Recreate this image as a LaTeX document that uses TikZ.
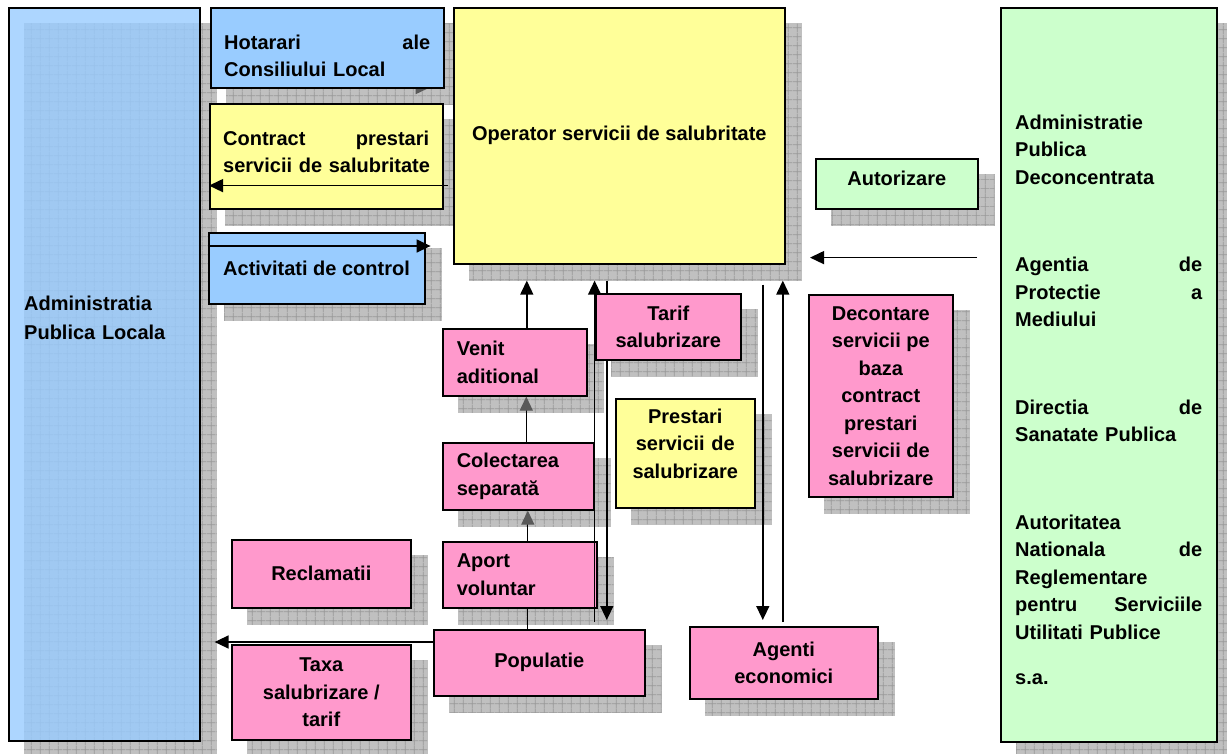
\documentclass[tikz,border=0pt]{standalone}
\usepackage{fontspec}
\setmainfont{Liberation Sans}
\usetikzlibrary{arrows.meta,patterns.meta}
\definecolor{boxblue}{HTML}{99CCFF}
\definecolor{boxyellow}{HTML}{FFFF99}
\definecolor{boxpink}{HTML}{FF99CC}
\definecolor{boxgreen}{HTML}{CCFFCC}
\definecolor{shadowgray}{HTML}{C0C0C0}
\definecolor{gridgray}{HTML}{999999}
\pgfdeclarelayer{shadow}
\pgfdeclarelayer{under}
\pgfsetlayers{shadow,under,main}
\tikzdeclarepattern{
  name=shadegrid,
  type=uncolored,
  bounding box={(0pt,0pt) and (9.2pt,9.2pt)},
  tile size={(9.2pt,9.2pt)},
  code={\draw[line width=0.6pt] (0pt,4.6pt) -- (9.2pt,4.6pt) (4.6pt,0pt) -- (4.6pt,9.2pt);}
}

\begin{document}
\begin{tikzpicture}[x=1pt,y=-1pt,
    box/.style={draw,line width=1.6pt,anchor=north west,inner sep=0pt,align=center,
      font=\bfseries\fontsize{20}{27.5}\selectfont},
    lbox/.style={box,align=left,inner xsep=14pt},
    txt/.style={inner sep=0pt,font=\bfseries\fontsize{20}{27.5}\selectfont},
    arr/.style={line width=1.4pt,-{Triangle[length=14pt,width=13pt]}},
    arrg/.style={line width=1.2pt,-{Triangle[length=14pt,width=13pt,color=black!65]}},
    link/.style={line width=1.2pt}]
  \useasboundingbox (0,0) rectangle (1227,753);

  % boxes
  \node[box,fill=boxblue,fill opacity=0.8,text opacity=1,minimum width=191pt,minimum height=733pt] (adm) at (8,7) {};
  \node[box,fill=boxblue,minimum width=233pt,minimum height=80pt] (hot) at (210,7) {};
  \node[box,fill=boxyellow,minimum width=233pt,minimum height=105pt] (con) at (209,103) {};
  \node[box,fill=boxblue,minimum width=216pt,minimum height=71pt] (act) at (208,232) {};
  \node[box,fill=boxyellow,minimum width=331pt,minimum height=256pt] (op) at (453,7) {Operator servicii de salubritate};
  \node[box,fill=boxgreen,minimum width=162pt,minimum height=50pt] (aut) at (815,158) {};
  \node[box,fill=boxgreen,minimum width=216pt,minimum height=734pt] (grn) at (1000,7) {};
  \node[lbox,fill=boxpink,text width=116pt,minimum width=144pt,minimum height=67pt] (ven) at (442,328) {Venit\\aditional};
  \node[box,fill=boxpink,minimum width=145pt,minimum height=66pt] (tar) at (595,293) {Tarif\\salubrizare};
  \node[lbox,fill=boxpink,text width=123pt,minimum width=151pt,minimum height=67pt] (col) at (442,442) {Colectarea\\separată};
  \node[box,fill=boxyellow,minimum width=139pt,minimum height=109pt] (pre) at (615,398) {};
  \node[box,fill=boxpink,minimum width=144pt,minimum height=202pt] (dec) at (808,294)
    {Decontare\\servicii pe\\baza\\contract\\prestari\\servicii de\\salubrizare};
  \node[box,fill=boxpink,minimum width=179pt,minimum height=68pt] (rec) at (231,539) {Reclamatii};
  \node[lbox,fill=boxpink,text width=126pt,minimum width=154pt,minimum height=66pt] (apo) at (442,541) {Aport\\voluntar};
  \node[box,fill=boxpink,minimum width=211pt,minimum height=66pt] (pop) at (433,629) {Populatie};
  \node[box,fill=boxpink,minimum width=179pt,minimum height=95pt] (tax) at (231,644) {Taxa\\salubrizare /\\tarif};
  \node[box,fill=boxpink,minimum width=188pt,minimum height=72pt] (age) at (689,626) {Agenti\\economici};

  % texts placed off centre
  \node[txt,text width=175pt,align=left,anchor=base west] (admtxt) at ([xshift=16pt,yshift=-303pt]adm.north west)
    {Administratia\\[1.5pt]Publica Locala};
  \node[txt,text width=206pt,align=left,anchor=base west] (hottxt) at ([xshift=14pt,yshift=-42pt]hot.north west)
    {Hotarari\hfill ale\\Consiliului Local};
  \node[txt,text width=206pt,align=left,anchor=base west] (contxt) at ([xshift=14pt,yshift=-42pt]con.north west)
    {Contract\hfill prestari\\\mbox{servicii de salubritate}};
  \node[txt,anchor=base west] (acttxt) at ([xshift=15pt,yshift=-43pt]act.north west) {Activitati de control};
  \node[txt,anchor=base] (auttxt) at ([yshift=24pt]aut.south) {Autorizare};
  \node[txt,text width=130pt,align=center,anchor=base] (pretxt) at ([yshift=-25pt]pre.north)
    {Prestari\\servicii de\\salubrizare};
  \node[txt,text width=187pt,align=left,anchor=base west] (grntxt) at ([xshift=15pt,yshift=-122pt]grn.north west)
    {Administratie\\Publica\\Deconcentrata\\[60pt]Agentia\hfill de\\Protectie\hfill a\\Mediului\\[60pt]%
     Directia\hfill de\\Sanatate Publica\\[60pt]Autoritatea\\Nationala\hfill de\\Reglementare\\%
     pentru\hfill Serviciile\\Utilitati Publice\\[18pt]s.a.};

  % shadows
  \begin{pgfonlayer}{shadow}
    \foreach \n in {adm,hot,con,act,op,aut,grn,ven,tar,col,pre,dec,rec,apo,pop,tax,age} {
      \fill[shadowgray] ([shift={(16,16)}]\n.south west) rectangle ([shift={(16,16)}]\n.north east);
      \path[pattern=shadegrid,pattern color=gridgray] ([shift={(16,16)}]\n.south west) rectangle ([shift={(16,16)}]\n.north east);
    }
  \end{pgfonlayer}

  % arrows behind the boxes
  \begin{pgfonlayer}{under}
    \draw[arrg,shorten >=15pt] ([yshift=1pt]hot.south west) -- ([yshift=1pt]hot.south east);
    \draw[arr,shorten <=16pt,shorten >=9pt] ([xshift=-12.5pt]op.south) -- ([xshift=-12.5pt]op.south |- pop.north);
    \draw[arr,shorten <=20pt,shorten >=6pt] ([xshift=-21pt]age.north |- op.south) -- ([xshift=-21pt]age.north);
  \end{pgfonlayer}

  % arrows
  \draw[arr,shorten <=5pt] ([yshift=24pt]con.south -| op.west) -- ([yshift=24pt]con.south west);
  \draw[arr,shorten >=-5pt] ([yshift=-14pt]act.north west) -- ([yshift=-14pt]act.north east);
  \draw[arr,shorten >=16pt] ([xshift=12pt]ven.north) -- ([xshift=12pt]ven.north |- op.south);
  \draw[arrg] ([xshift=8pt]col.north) -- ([xshift=8pt]col.north |- ven.south);
  \draw[arrg] ([xshift=8pt]apo.north) -- ([xshift=8pt]apo.north |- col.south);
  \draw[link] ([xshift=8pt]apo.south) -- ([xshift=8pt]apo.south |- pop.north);
  \draw[arr,shorten <=7pt,shorten >=16pt] (col.east |- pop.north) -- (col.east |- op.south);
  \draw[arr,shorten <=4pt,shorten >=16pt] ([xshift=-1pt]age.north) -- ([xshift=-1pt]age.north |- op.south);
  \draw[arr,shorten <=23pt,shorten >=-5pt] ([yshift=-48pt]aut.south -| grn.west) -- ([yshift=-48pt]aut.south -| aut.west);
  \draw[arr,shorten >=14pt] ([yshift=-13pt]pop.north west) -- ([yshift=-13pt]pop.north west -| adm.east);
\end{tikzpicture}
\end{document}
